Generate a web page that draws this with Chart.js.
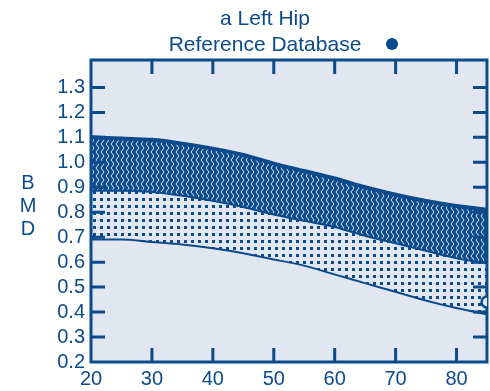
<!DOCTYPE html>
<html>
<head>
<meta charset="utf-8">
<script src="https://cdn.jsdelivr.net/npm/chart.js@4/dist/chart.umd.min.js"></script>
<style>
  html, body { margin: 0; padding: 0; background: #fff; }
  canvas { display: block; }
</style>
</head>
<body>
<canvas id="bmdChart" width="490" height="391"></canvas>
<script>
// reference curves
const ages  = [20, 25, 30, 35, 40, 45, 50, 55, 60, 65, 70, 75, 80, 85];
const upper = [1.10, 1.095, 1.09, 1.075, 1.055, 1.03, 0.995, 0.965, 0.935, 0.90, 0.87, 0.845, 0.825, 0.81];
const mean  = [0.89, 0.89, 0.885, 0.87, 0.85, 0.825, 0.795, 0.77, 0.745, 0.71, 0.68, 0.65, 0.62, 0.60];
const lower = [0.695, 0.695, 0.685, 0.675, 0.66, 0.64, 0.615, 0.59, 0.555, 0.52, 0.485, 0.45, 0.42, 0.395];
const patientAge = [85];
const patientBmd = [0.44];
const xTicks = [20, 30, 40, 50, 60, 70, 80];
const yTicks = [0.2, 0.3, 0.4, 0.5, 0.6, 0.7, 0.8, 0.9, 1.0, 1.1, 1.2, 1.3];

const NAVY = '#0b4a8b';
const BG = '#e2e6f1';
const FONT = "'Liberation Sans', Arial, sans-serif";

// fill patterns
function zigzagPattern() {
  const c = document.createElement('canvas');
  c.width = 5; c.height = 8;
  const g = c.getContext('2d');
  g.fillStyle = NAVY; g.fillRect(0, 0, 5, 8);
  g.strokeStyle = '#dfe5f2'; g.lineWidth = 1;
  g.beginPath(); g.moveTo(1, 0); g.lineTo(4, 4); g.lineTo(1, 8); g.stroke();
  return g.createPattern(c, 'repeat');
}
function dotPattern() {
  const c = document.createElement('canvas');
  c.width = 7; c.height = 7;
  const g = c.getContext('2d');
  g.fillStyle = BG; g.fillRect(0, 0, 7, 7);
  g.fillStyle = NAVY; g.fillRect(2, 2, 3, 3);
  return g.createPattern(c, 'repeat');
}

const pts = (xs, ys) => xs.map((x, i) => ({ x: x, y: ys[i] }));

const framePlugin = {
  id: 'frame',
  beforeDraw(chart) {
    const { ctx, chartArea: a } = chart;
    ctx.save();
    ctx.fillStyle = '#fff';
    ctx.fillRect(0, 0, chart.width, chart.height);
    ctx.fillStyle = BG;
    ctx.fillRect(a.left, a.top, a.right - a.left, a.bottom - a.top);
    ctx.restore();
  },
  afterDraw(chart) {
    const { ctx, chartArea: a, scales } = chart;
    ctx.save();
    ctx.strokeStyle = NAVY;
    ctx.lineWidth = 3;
    ctx.strokeRect(a.left, a.top, a.right - a.left, a.bottom - a.top);
    // inward tick marks
    const len = 14;
    ctx.beginPath();
    yTicks.slice(1).forEach(v => {
      const y = scales.y.getPixelForValue(v);
      ctx.moveTo(a.left, y); ctx.lineTo(a.left + len, y);
      ctx.moveTo(a.right, y); ctx.lineTo(a.right - len, y);
    });
    xTicks.slice(1).forEach(v => {
      const x = scales.x.getPixelForValue(v);
      ctx.moveTo(x, a.bottom); ctx.lineTo(x, a.bottom - len);
      ctx.moveTo(x, a.top); ctx.lineTo(x, a.top + len);
    });
    ctx.stroke();
    // patient marker, half hidden by the right frame
    const px = scales.x.getPixelForValue(patientAge[0]);
    const py = scales.y.getPixelForValue(patientBmd[0]);
    ctx.beginPath();
    ctx.arc(px, py, 5.5, Math.PI / 2, Math.PI * 1.5);
    ctx.fillStyle = BG; ctx.fill();
    ctx.lineWidth = 2.5; ctx.stroke();
    // titles
    ctx.fillStyle = NAVY;
    ctx.font = '21px ' + FONT;
    ctx.textAlign = 'center';
    ctx.textBaseline = 'alphabetic';
    ctx.fillText('a Left Hip', 265, 25);
    ctx.fillText('Reference Database', 265, 51);
    ctx.beginPath();
    ctx.arc(392, 44, 6, 0, Math.PI * 2);
    ctx.fill();
    ctx.font = '20px ' + FONT;
    ctx.textBaseline = 'middle';
    ['B', 'M', 'D'].forEach((ch, i) => ctx.fillText(ch, 28, 183 + i * 23));
    ctx.restore();
  }
};

new Chart(document.getElementById('bmdChart'), {
  type: 'line',
  data: {
    datasets: [
      { data: pts(ages, upper), borderColor: NAVY, borderWidth: 4, pointRadius: 0,
        fill: '+1', backgroundColor: zigzagPattern(), cubicInterpolationMode: 'monotone' },
      { data: pts(ages, mean), borderColor: NAVY, borderWidth: 4, pointRadius: 0,
        fill: '+1', backgroundColor: dotPattern(), cubicInterpolationMode: 'monotone' },
      { data: pts(ages, lower), borderColor: NAVY, borderWidth: 4, pointRadius: 0,
        fill: false, cubicInterpolationMode: 'monotone' }
    ]
  },
  options: {
    responsive: false,
    animation: false,
    layout: { padding: { top: 60, right: 3, left: 0, bottom: 0 } },
    plugins: { legend: { display: false }, tooltip: { enabled: false } },
    scales: {
      x: {
        type: 'linear', min: 20, max: 85,
        afterBuildTicks: s => { s.ticks = xTicks.map(v => ({ value: v })); },
        afterFit: s => { s.height = 29; },
        grid: { display: false, drawTicks: false },
        border: { display: false },
        ticks: { color: NAVY, font: { family: FONT, size: 20 }, padding: 5, maxRotation: 0 }
      },
      y: {
        min: 0.2, max: 1.41,
        afterBuildTicks: s => { s.ticks = yTicks.map(v => ({ value: v })); },
        afterFit: s => { s.width = 91; },
        grid: { display: false, drawTicks: false },
        border: { display: false },
        ticks: { color: NAVY, font: { family: FONT, size: 20 }, padding: 6,
                 callback: v => v.toFixed(1) }
      }
    }
  },
  plugins: [framePlugin]
});
</script>
</body>
</html>
